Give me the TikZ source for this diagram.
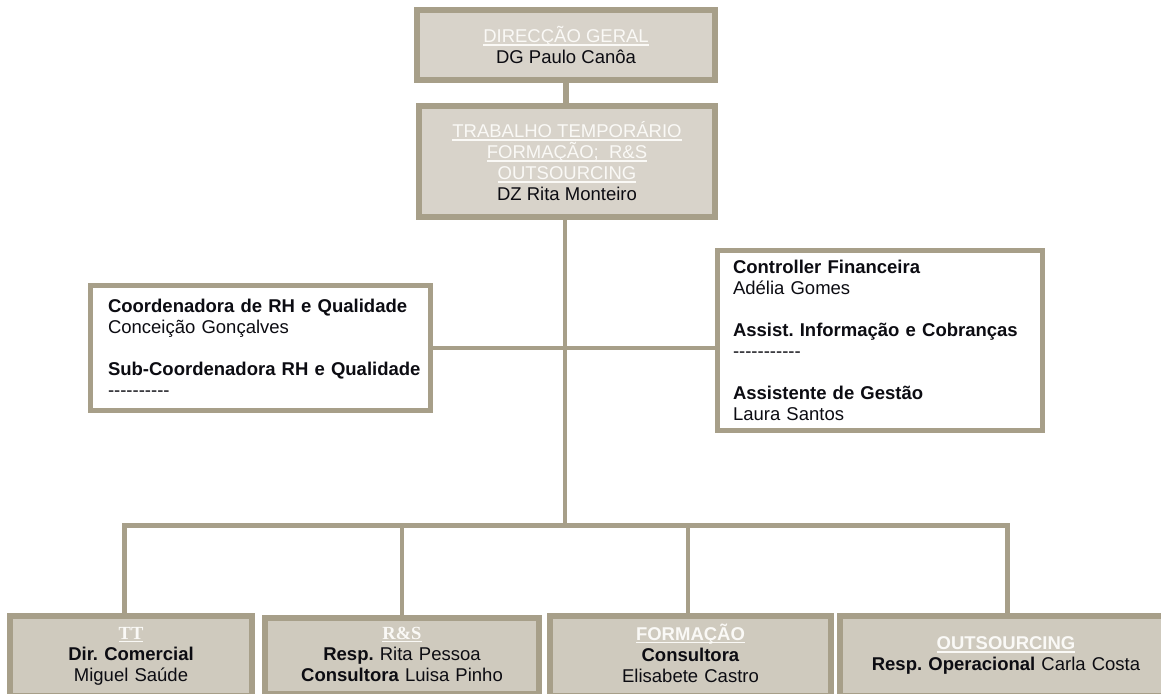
\documentclass[tikz,border=0pt]{standalone}
\usepackage{fontspec}
\newfontfamily\arialf{Liberation Sans}
\newfontfamily\timesf{Liberation Serif}
\definecolor{bord}{HTML}{A79F89}
\definecolor{fillA}{HTML}{D8D3CA}
\definecolor{fillB}{HTML}{CFCABE}
\definecolor{hdrc}{HTML}{FAF9F6}
\definecolor{txt}{HTML}{0C0C12}
\newcommand{\undl}[1]{\setbox0\hbox{#1}\rlap{\rule[-3pt]{\wd0}{1.5pt}}\box0}
\newcommand{\hd}[1]{{\color{hdrc}\undl{#1}}}
\newcommand{\hds}[1]{{\timesf\bfseries\color{hdrc}\undl{#1}}}
\frenchspacing
\begin{document}
\begin{tikzpicture}[x=1pt,y=-1pt,
  base/.style={outer sep=0pt, inner sep=0pt, text=txt, font=\arialf\fontsize{18.5}{21}\selectfont\frenchspacing},
  headbox/.style={base, draw=bord, line width=6pt, fill=fillA, align=center},
  sidebox/.style={base, draw=bord, line width=5pt, fill=white, align=left},
  unitbox/.style={base, draw=bord, line width=6pt, fill=fillB, align=center},
  link/.style={draw=bord, line width=4.5pt}]
\useasboundingbox (0,0) rectangle (1161,693);
\fill[white] (0,0) rectangle (1161,693);
\clip (0,0) rectangle (1161,693);

% management boxes
\node[headbox, minimum width=298pt, minimum height=70pt] (dg) at (566,45)
  {\hd{DIRECÇÃO GERAL}\\DG Paulo Canôa};
\node[headbox, minimum width=296pt, minimum height=111pt] (dz) at (567,161.5)
  {\hd{TRABALHO TEMPORÁRIO}\\\hd{FORMAÇÃO;\ \ R\&S}\\\hd{OUTSOURCING}\\DZ Rita Monteiro};

% staff boxes
\node[sidebox, minimum width=340pt, minimum height=125pt, text width=305pt] (rh) at (260.5,348)
  {\textbf{Coordenadora de RH e Qualidade}\\
   Conceição Gonçalves\\[21pt]
   \mbox{\textbf{Sub-Coordenadora RH e Qualidade}}\\
   ----------};
\node[sidebox, minimum width=325pt, minimum height=180pt, text width=294pt] (fin) at (880,340.5)
  {\textbf{Controller Financeira}\\
   Adélia Gomes\\[21pt]
   \mbox{\textbf{Assist. Informação e Cobranças}}\\
   -----------\\[21pt]
   \textbf{Assistente de Gestão}\\
   Laura Santos};

% units
\node[unitbox, minimum width=242pt, minimum height=80pt, text width=242pt] (tt) at (131,656)
  {\strut\hds{TT}\\\textbf{Dir. Comercial}\\Miguel Saúde\strut};
\node[unitbox, minimum width=274pt, minimum height=76pt, text width=274pt] (rs) at (402,656)
  {\strut\hds{R\&S}\\\textbf{Resp.} Rita Pessoa\\\textbf{Consultora} Luisa Pinho\strut};
\node[unitbox, minimum width=281pt, minimum height=80pt, text width=281pt] (fo) at (690.5,656)
  {\strut\hd{\textbf{FORMAÇÃO}}\\\textbf{Consultora}\\Elisabete Castro\strut};
\node[unitbox, minimum width=332pt, minimum height=80pt, text width=332pt] (os) at (1006,656)
  {\strut\hd{\textbf{OUTSOURCING}}\\\textbf{Resp. Operacional} Carla Costa\strut};

% connectors
\coordinate (hub) at (565,525.5);
\coordinate (b1) at (124.5,525.5);
\coordinate (b3) at (688,525.5);
\coordinate (b4) at (1007,525.5);
\draw[link, line width=6pt] (dg.south) -- (dg.south |- dz.north);
\draw[link] (hub |- dz.south) -- (hub);
\draw[link] (rh.east) -- (rh.east -| fin.west);
\draw[link, line width=5pt, line join=miter] (b1 |- tt.north) -- (b1) -- (b4) -- (b4 |- os.north);
\draw[link] (rs.north) -- (rs.north |- hub);
\draw[link] (b3) -- (b3 |- fo.north);
\end{tikzpicture}
\end{document}
